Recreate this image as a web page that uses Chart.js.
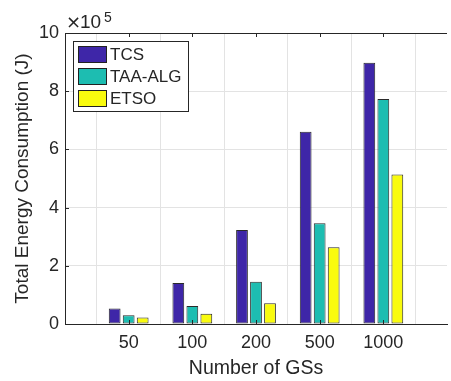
<!DOCTYPE html>
<html>
<head>
<meta charset="utf-8">
<script src="https://cdn.jsdelivr.net/npm/chart.js@4/dist/chart.umd.min.js"></script>
<style>
  html, body { margin: 0; padding: 0; background: #fff; overflow: hidden; }
  canvas { display: block; }
</style>
</head>
<body>
<canvas id="myChart" width="455" height="381"></canvas>
<script>
// data (J)
const categories = ['50', '100', '200', '500', '1000'];
const seriesNames = ['TCS', 'TAA-ALG', 'ETSO'];
const tcs = [53000, 141000, 323000, 661000, 898000];
const taa = [30000, 62000, 145000, 346000, 773000];
const etso = [22000, 35000, 71000, 264000, 514000];
const yTicks = [0, 200000, 400000, 600000, 800000, 1000000];

const colors = ['#3e26a8', '#1dbdb1', '#f9fb0e'];
const axisColor = '#262626';
const fontFamily = '"Liberation Sans", Arial, Helvetica, sans-serif';

// MATLAB puts the groups at x = 1..5 with limits 0..6, so pad the category list
const labels = [''].concat(categories, ['']);
function pad(arr) { return [null].concat(arr, [null]); }

const extras = {
    id: 'extras',
    afterDraw(chart) {
        const ctx = chart.ctx;
        const a = chart.chartArea;
        const x = chart.scales.x, y = chart.scales.y;
        ctx.save();
        ctx.strokeStyle = axisColor;
        ctx.lineWidth = 1;
        // top border
        ctx.beginPath();
        ctx.moveTo(a.left, a.top + 0.5);
        ctx.lineTo(a.right, a.top + 0.5);
        ctx.stroke();
        // inside tick marks
        ctx.beginPath();
        for (let i = 1; i <= categories.length; i++) {
            const px = Math.round(x.getPixelForValue(i)) + 0.5;
            ctx.moveTo(px, a.bottom); ctx.lineTo(px, a.bottom - 4);
            ctx.moveTo(px, a.top); ctx.lineTo(px, a.top + 4);
        }
        yTicks.forEach(v => {
            const py = Math.round(y.getPixelForValue(v)) + 0.5;
            ctx.moveTo(a.left, py); ctx.lineTo(a.left + 4, py);
        });
        ctx.stroke();

        // exponent label
        ctx.fillStyle = axisColor;
        ctx.textBaseline = 'alphabetic';
        ctx.textAlign = 'left';
        ctx.font = '18px "DejaVu Sans", sans-serif';
        ctx.fillText('\u00d7', 66, 28);
        ctx.font = '19px ' + fontFamily;
        ctx.fillText('10', 80, 28);
        ctx.font = '14px ' + fontFamily;
        ctx.fillText('5', 104, 22);

        // legend box
        const lx = 73, ly = 41, lw = 115, lh = 70;
        ctx.fillStyle = '#fff';
        ctx.fillRect(lx, ly, lw, lh);
        ctx.strokeStyle = axisColor;
        ctx.strokeRect(lx + 0.5, ly + 0.5, lw, lh);
        ctx.font = '17px ' + fontFamily;
        ctx.textBaseline = 'middle';
        chart.data.datasets.forEach((ds, i) => {
            const sy = 46 + i * 22;
            ctx.fillStyle = ds.backgroundColor;
            ctx.fillRect(78, sy, 29, 17);
            ctx.strokeStyle = '#222';
            ctx.strokeRect(78.5, sy + 0.5, 28, 16);
            ctx.fillStyle = axisColor;
            ctx.fillText(ds.label, 110, sy + 9);
        });
        ctx.restore();
    }
};

const ctx = document.getElementById('myChart').getContext('2d');
const chart = new Chart(ctx, {
    type: 'bar',
    data: {
        labels: labels,
        datasets: [tcs, taa, etso].map((vals, i) => ({
            label: seriesNames[i],
            data: pad(vals),
            backgroundColor: colors[i],
            borderColor: '#2a2a2a',
            borderWidth: 1,
            borderSkipped: false,
            categoryPercentage: 0.66,
            barPercentage: 0.84
        }))
    },
    options: {
        responsive: false,
        animation: false,
        devicePixelRatio: 1,
        layout: { padding: { top: 33, right: 0, bottom: 0, left: 0 } },
        plugins: { legend: { display: false }, tooltip: { enabled: false } },
        scales: {
            x: {
                offset: false,
                afterFit: s => { s.height = 57; },
                grid: { color: '#e3e3e3', drawTicks: false },
                border: { color: axisColor },
                ticks: {
                    color: axisColor, padding: 8, maxRotation: 0, autoSkip: false,
                    font: { family: fontFamily, size: 18 }
                },
                title: {
                    display: true, text: 'Number of GSs', color: axisColor,
                    font: { family: fontFamily, size: 19.5 },
                    padding: { top: 0, bottom: 1 }
                }
            },
            y: {
                min: 0, max: 1000000,
                afterFit: s => { s.width = 65; },
                afterBuildTicks: s => { s.ticks = yTicks.map(v => ({ value: v })); },
                grid: { color: '#e3e3e3', drawTicks: false },
                border: { color: axisColor },
                ticks: {
                    color: axisColor, padding: 6,
                    font: { family: fontFamily, size: 18 },
                    callback: v => String(v / 100000)
                },
                title: {
                    display: true, text: 'Total Energy Consumption (J)', color: axisColor,
                    font: { family: fontFamily, size: 19 },
                    padding: { top: 11, bottom: 0 }
                }
            }
        }
    },
    plugins: [extras]
});
</script>
</body>
</html>
